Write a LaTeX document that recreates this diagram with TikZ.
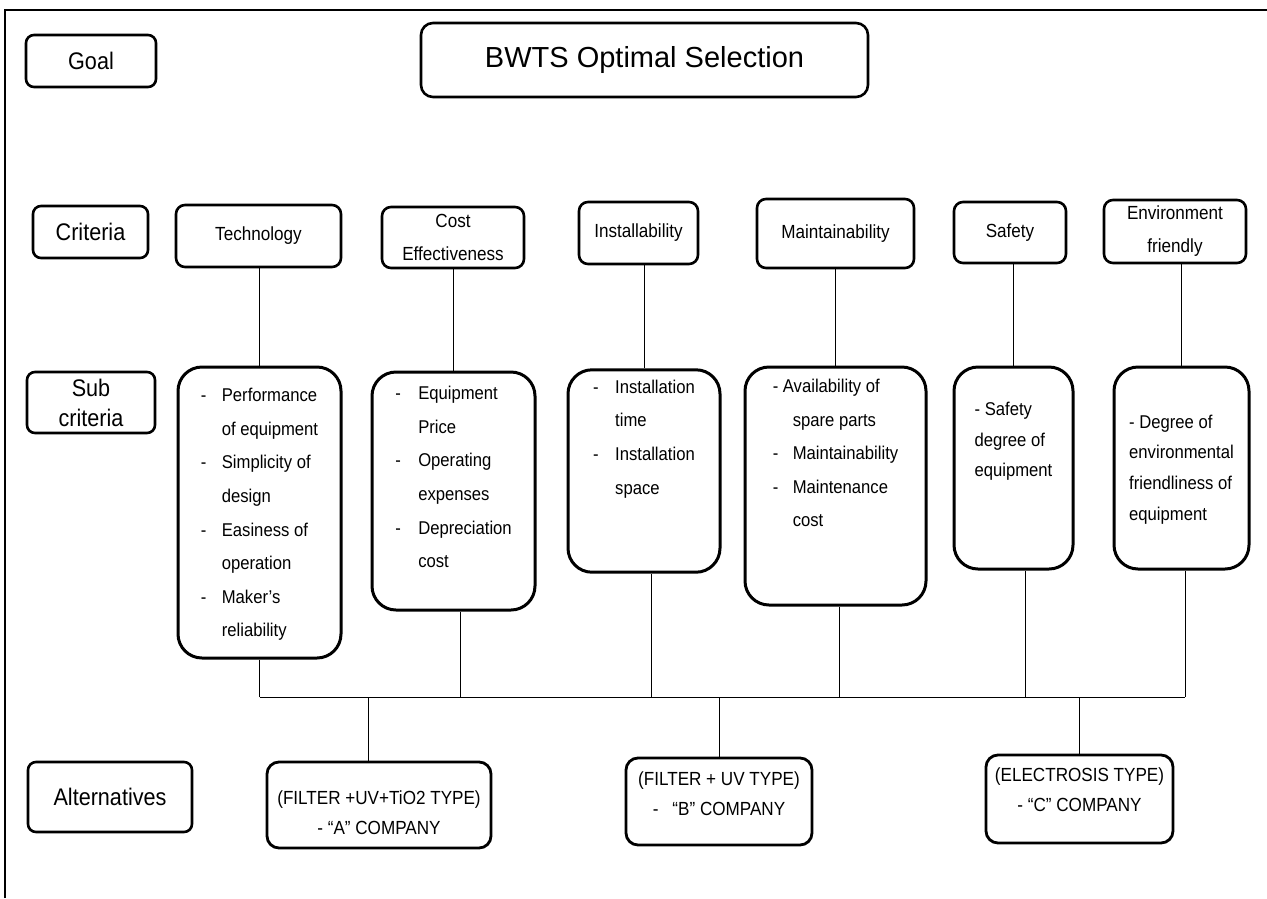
\documentclass[tikz,border=0pt]{standalone}
\usepackage{fontspec}
\usepackage{array}
\setmainfont{Liberation Sans}
\newfontfamily\narrowfont{Liberation Sans}[FakeStretch=0.9]

\begin{document}
\begin{tikzpicture}[x=1pt, y=-1pt,
    lblbox/.style={draw, line width=2.6pt, rounded corners=8pt, inner sep=0pt, align=center, font=\narrowfont\fontsize{24}{30}\selectfont},
    critbox/.style={draw, line width=2.6pt, rounded corners=9pt, inner sep=0pt, align=center, font=\narrowfont\fontsize{19}{33}\selectfont},
    subbox/.style={draw, line width=3pt, rounded corners=24pt, inner sep=0pt, font=\narrowfont\fontsize{18.5}{33.6}\selectfont},
    altbox/.style={draw, line width=2.8pt, rounded corners=12pt, inner sep=0pt, font=\narrowfont\fontsize{19}{30}\selectfont},
    link/.style={line width=1pt}]
        \useasboundingbox (0,0) rectangle (1267,898);

        % Draw the frame (top and left edge only)
        \draw[line width=1.5pt] (5,898) -- (5,10) -- (1267,10);

        % Draw the level labels on the left
        \node[lblbox, minimum width=130pt, minimum height=52pt] (goal) at (91,61) {Goal};
        \node[lblbox, minimum width=115pt, minimum height=52pt] (lCrit) at (90.5,232) {Criteria};
        \node[lblbox, minimum width=128pt, minimum height=61pt] (lSub) at (91,402.5) {Sub\\criteria};
        \node[lblbox, minimum width=164pt, minimum height=70pt] (lAlt) at (110,797) {Alternatives};

        % Draw the goal
        \node[draw, line width=2.6pt, rounded corners=12pt, inner sep=0pt, minimum width=447pt, minimum height=74pt, font=\fontsize{29}{34}\selectfont] (title) at (644.5,60) {BWTS Optimal Selection};

        % Draw the criteria
        \node[critbox, minimum width=165pt, minimum height=62pt] (cTech) at (258.5,236) {Technology};
        \node[critbox, minimum width=142pt, minimum height=61pt] (cCost) at (453,237.5) {Cost\\Effectiveness};
        \node[critbox, minimum width=119pt, minimum height=62pt] (cInst) at (638.5,233) {Installability};
        \node[critbox, minimum width=157pt, minimum height=69pt] (cMaint) at (835.5,233.5) {Maintainability};
        \node[critbox, minimum width=112pt, minimum height=61pt] (cSafe) at (1010,232.5) {Safety};
        \node[critbox, minimum width=142pt, minimum height=63pt] (cEnv) at (1175,231.5) {Environment\\friendly};

        % Draw the sub criteria
        \node[subbox, minimum width=163pt, minimum height=291pt] (sTech) at (259.5,512.5) {%
            \begin{tabular}{@{}p{21pt}@{}l@{}}
            - & Performance\\
              & of equipment\\
            - & Simplicity of\\
              & design\\
            - & Easiness of\\
              & operation\\
            - & Maker’s\\
              & reliability
            \end{tabular}};
        \node[subbox, minimum width=163pt, minimum height=238pt] (sCost) at (453.5,491) {%
            \begin{tabular}{@{}p{23pt}@{}l@{}}
            - & Equipment\\
              & Price\\
            - & Operating\\
              & expenses\\
            - & Depreciation\\
              & cost\\[28pt]
            \end{tabular}};
        \node[subbox, minimum width=152pt, minimum height=202pt] (sInst) at (644,471) {%
            \begin{tabular}{@{}p{22pt}@{}l@{}}
            - & Installation\\
              & time\\
            - & Installation\\
              & space\\[68pt]
            \end{tabular}};
        \node[subbox, minimum width=181pt, minimum height=238pt] (sMaint) at (835.5,486) {%
            \begin{tabular}{@{}p{20pt}@{}l@{}}
            \multicolumn{2}{@{}l@{}}{- Availability of}\\
              & spare parts\\
            - & Maintainability\\
            - & Maintenance\\
              & cost\\[66pt]
            \end{tabular}};
        \node[subbox, minimum width=119pt, minimum height=202pt] (sSafe) at (1013.5,468) {%
            \fontsize{18.5}{30.6}\selectfont
            \begin{tabular}{@{}l@{}}
            - Safety\\
            degree of\\
            equipment\\[56pt]
            \end{tabular}};
        \node[subbox, minimum width=135pt, minimum height=202pt] (sEnv) at (1181.5,468) {%
            \fontsize{18.5}{30.6}\selectfont
            \begin{tabular}{@{}l@{}}
            - Degree of\\
            environmental\\
            friendliness of\\
            equipment
            \end{tabular}};

        % Draw the alternatives
        \node[altbox, minimum width=224pt, minimum height=86pt] (altA) at (379,805) {%
            \begin{tabular}{@{}c@{}}
            \rule{0pt}{37pt}(FILTER +UV+TiO2 TYPE)\\
            - “A” COMPANY
            \end{tabular}};
        \node[altbox, minimum width=186pt, minimum height=87pt] (altB) at (719,801.5) {%
            \begin{tabular}{@{}c@{}}
            (FILTER + UV TYPE)\\
            -\hspace{14pt}“B” COMPANY\\[14pt]
            \end{tabular}};
        \node[altbox, minimum width=187pt, minimum height=88pt] (altC) at (1079.5,799) {%
            \begin{tabular}{@{}c@{}}
            (ELECTROSIS TYPE)\\
            - “C” COMPANY\\[17pt]
            \end{tabular}};

        % Connect criteria to their sub criteria
        \draw[link] (cTech.south -| sTech.north) -- (sTech.north);
        \draw[link] (cCost.south -| sCost.north) -- (sCost.north);
        \draw[link] (cInst.south -| sInst.north) -- (sInst.north);
        \draw[link] (cMaint.south -| sMaint.north) -- (sMaint.north);
        \draw[link] (cSafe.south -| sSafe.north) -- (sSafe.north);
        \draw[link] (cEnv.south -| sEnv.north) -- (sEnv.north);

        % Drops from the sub criteria onto the common bar
        \coordinate (bar) at (0,697);
        \coordinate (dTech) at (sTech.south);
        \coordinate (dCost) at ([xshift=7pt]sCost.south);
        \coordinate (dInst) at ([xshift=7pt]sInst.south);
        \coordinate (dMaint) at ([xshift=3.5pt]sMaint.south);
        \coordinate (dSafe) at ([xshift=11.5pt]sSafe.south);
        \coordinate (dEnv) at ([xshift=3.5pt]sEnv.south);
        \draw[link] (dTech) -- (dTech |- bar);
        \draw[link] (dCost) -- (dCost |- bar);
        \draw[link] (dInst) -- (dInst |- bar);
        \draw[link] (dMaint) -- (dMaint |- bar);
        \draw[link] (dSafe) -- (dSafe |- bar);
        \draw[link] (dEnv) -- (dEnv |- bar);
        \draw[link] (dTech |- bar) -- (dEnv |- bar);

        % Bar down to the alternatives
        \coordinate (uA) at ([xshift=-11pt]altA.north);
        \draw[link] (uA |- bar) -- (uA);
        \draw[link] (altB.north |- bar) -- (altB.north);
        \draw[link] (altC.north |- bar) -- (altC.north);
    \end{tikzpicture}
\end{document}
